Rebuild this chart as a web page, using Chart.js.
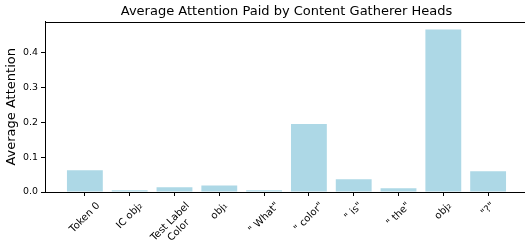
<!DOCTYPE html>
<html>
<head>
<meta charset="utf-8">
<script src="https://cdn.jsdelivr.net/npm/chart.js@4"></script>
<style>
  html, body { margin: 0; padding: 0; overflow: hidden; background: #fff; }
  #wrap { width: 525px; height: 243px; overflow: hidden; }
</style>
</head>
<body>
<div id="wrap"><canvas id="myChart" width="535" height="243"></canvas></div>
<script>
const tokens = ['Token 0', 'IC obj\u2082', ['Test Label', 'Color'], 'obj\u2081', '" What"', '" color"', '" is"', '" the"', 'obj\u2082', '"?"'];
const attention = [0.0625, 0.005, 0.0135, 0.019, 0.005, 0.195, 0.0366, 0.0107, 0.466, 0.0597];
const yTicks = [0.0, 0.1, 0.2, 0.3, 0.4];

const fontFam = "'DejaVu Sans', sans-serif";

// box around the plot area like matplotlib spines
const frame = {
  id: 'frame',
  afterDraw(chart) {
    const a = chart.chartArea;
    const c = chart.ctx;
    c.save();
    c.strokeStyle = '#000';
    c.lineWidth = 1;
    c.strokeRect(Math.round(a.left) + 0.5, Math.round(a.top) + 0.5, Math.round(a.right - a.left), Math.round(a.bottom - a.top));
    c.restore();
  }
};

// x labels rotated 45deg, centred under the tick (matplotlib style)
const xLabels = {
  id: 'xLabels',
  afterDraw(chart) {
    const c = chart.ctx;
    const xs = chart.scales.x;
    const top = chart.chartArea.bottom + 8;
    const lh = 12;
    c.save();
    c.font = '10px ' + fontFam;
    c.fillStyle = '#000';
    c.textAlign = 'center';
    c.textBaseline = 'middle';
    tokens.forEach((t, i) => {
      const lines = Array.isArray(t) ? t : [t];
      const w = Math.max(...lines.map(l => c.measureText(l).width));
      const h = lines.length * lh;
      const box = (w + h) * Math.SQRT1_2;
      const cx = xs.getPixelForValue(i);
      const cy = top + box / 2;
      c.save();
      c.translate(cx, cy);
      c.rotate(-Math.PI / 4);
      lines.forEach((l, k) => c.fillText(l, 0, -h / 2 + (k + 0.5) * lh));
      c.restore();
    });
    c.restore();
  }
};

const ctx = document.getElementById('myChart');
new Chart(ctx, {
  type: 'bar',
  data: {
    datasets: [{
      data: attention.map((v, i) => ({ x: i, y: v })),
      backgroundColor: '#ADD8E6',
      borderWidth: 0,
      barPercentage: 0.8,
      categoryPercentage: 1.0
    }]
  },
  options: {
    responsive: false,
    animation: false,
    layout: { padding: { left: 0, right: 7, top: 0, bottom: 0 } },
    plugins: {
      legend: { display: false },
      tooltip: { enabled: false },
      title: {
        display: true,
        fullSize: false,
        text: 'Average Attention Paid by Content Gatherer Heads',
        color: '#000',
        font: { family: fontFam, size: 13, weight: 'normal' },
        padding: { top: 4, bottom: 2 }
      }
    },
    scales: {
      x: {
        type: 'linear',
        min: -0.89,
        max: 9.89,
        offset: false,
        afterBuildTicks(scale) {
          scale.ticks = tokens.map((t, i) => ({ value: i }));
        },
        afterFit(scale) { scale.height = 51; },
        grid: { offset: false, drawOnChartArea: false, drawTicks: true, tickLength: 4, color: '#000' },
        border: { display: true, color: '#000' },
        ticks: { display: false }
      },
      y: {
        min: 0,
        max: 0.489,
        afterBuildTicks(scale) {
          scale.ticks = yTicks.map(v => ({ value: v }));
        },
        afterFit(scale) { scale.width = 45; },
        grid: { drawOnChartArea: false, drawTicks: true, tickLength: 4, color: '#000' },
        border: { display: true, color: '#000' },
        title: {
          display: true,
          text: 'Average Attention',
          color: '#000',
          font: { family: fontFam, size: 13 },
          padding: { top: 4, bottom: 2 }
        },
        ticks: {
          color: '#000',
          padding: 3,
          font: { family: fontFam, size: 9.4 },
          callback: (v) => v.toFixed(1)
        }
      }
    }
  },
  plugins: [frame, xLabels]
});
</script>
</body>
</html>
